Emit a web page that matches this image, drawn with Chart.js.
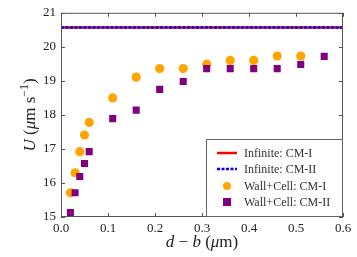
<!DOCTYPE html>
<html>
<head>
<meta charset="utf-8">
<script src="https://cdn.jsdelivr.net/npm/chart.js@4.4.0/dist/chart.umd.min.js"></script>
<style>
  html, body { margin: 0; padding: 0; background: #fff; }
  #wrap { width: 357px; height: 257px; }
</style>
</head>
<body>
<div id="wrap"><canvas id="uChart" width="357" height="257"></canvas></div>
<script>
// data
var infiniteU = 20.57;
var cm1X = [0.02, 0.03, 0.04, 0.05, 0.06, 0.11, 0.16, 0.21, 0.26, 0.31, 0.36, 0.41, 0.46, 0.51];
var cm1U = [15.71, 16.30, 16.92, 17.41, 17.78, 18.50, 19.11, 19.36, 19.36, 19.49, 19.60, 19.60, 19.73, 19.73];
var cm2X = [0.02, 0.03, 0.04, 0.05, 0.06, 0.11, 0.16, 0.21, 0.26, 0.31, 0.36, 0.41, 0.46, 0.51, 0.56];
var cm2U = [15.13, 15.71, 16.19, 16.57, 16.92, 17.89, 18.14, 18.75, 18.98, 19.36, 19.36, 19.36, 19.36, 19.48, 19.72];
var xTicks = [0.0, 0.1, 0.2, 0.3, 0.4, 0.5, 0.6];
var yTicks = [15, 16, 17, 18, 19, 20, 21];
var legendLabels = ['Infinite: CM-I', 'Infinite: CM-II', 'Wall+Cell: CM-I', 'Wall+Cell: CM-II'];

var SERIF = '"Liberation Serif", "DejaVu Serif", serif';

function toPoints(xs, ys) {
    return xs.map(function (x, i) { return { x: x, y: ys[i] }; });
}

// write a run of [font, text, dy] pieces centred on (0, 0) of the current transform
function drawRun(ctx, parts, cxMid, cy) {
    var total = 0;
    parts.forEach(function (p) { ctx.font = p[0]; total += ctx.measureText(p[1]).width; });
    var cx = cxMid - total / 2;
    ctx.textAlign = 'left';
    parts.forEach(function (p) {
        ctx.font = p[0];
        ctx.fillText(p[1], cx, cy + (p[2] || 0));
        cx += ctx.measureText(p[1]).width;
    });
}

// frame, inward ticks on all sides, axis titles, legend box
var decorPlugin = {
    id: 'decor',
    afterDraw: function (chart) {
        var ctx = chart.ctx;
        var a = chart.chartArea;
        var xs = chart.scales.x, ys = chart.scales.y;
        ctx.save();
        ctx.strokeStyle = '#555';
        ctx.lineWidth = 1;
        ctx.strokeRect(a.left + 0.5, a.top + 0.5, a.right - a.left - 1, a.bottom - a.top - 1);

        ctx.beginPath();
        xTicks.forEach(function (t) {
            var px = Math.round(xs.getPixelForValue(t)) + 0.5;
            ctx.moveTo(px, a.bottom); ctx.lineTo(px, a.bottom - 4);
            ctx.moveTo(px, a.top); ctx.lineTo(px, a.top + 4);
        });
        yTicks.forEach(function (t) {
            var py = Math.round(ys.getPixelForValue(t)) + 0.5;
            ctx.moveTo(a.left, py); ctx.lineTo(a.left + 4, py);
            ctx.moveTo(a.right, py); ctx.lineTo(a.right - 4, py);
        });
        ctx.stroke();

        // x title: d − b (μm)
        ctx.fillStyle = '#222';
        ctx.textBaseline = 'middle';
        var f = '17px ' + SERIF, fi = 'italic 17px ' + SERIF;
        drawRun(ctx, [
            [fi, 'd'], [f, ' \u2212 '], [fi, 'b'], [f, ' ('], [fi, '\u03bc'], [f, 'm)']
        ], (a.left + a.right) / 2, 243);

        // y title: U (μm s^-1), rotated
        ctx.save();
        ctx.translate(31, (a.top + a.bottom) / 2);
        ctx.rotate(-Math.PI / 2);
        drawRun(ctx, [
            [fi, 'U'], [f, ' ('], [fi, '\u03bc'], [f, 'm s'],
            ['12px ' + SERIF, '\u22121', -6], [f, ')']
        ], 0, 0);
        ctx.restore();

        // legend box in lower right
        var bx = 206, by = 139, bw = a.right - bx, bh = a.bottom - by;
        ctx.fillStyle = '#fff';
        ctx.fillRect(bx, by, bw, bh);
        ctx.strokeStyle = '#666';
        ctx.strokeRect(bx + 0.5, by + 0.5, bw - 1, bh - 1);
        var rows = [153, 169, 186, 202];
        ctx.lineWidth = 2.5;
        ctx.strokeStyle = '#ff0000';
        ctx.beginPath(); ctx.moveTo(217, rows[0]); ctx.lineTo(237, rows[0]); ctx.stroke();
        ctx.strokeStyle = '#0000ff';
        ctx.setLineDash([3, 1.5]);
        ctx.beginPath(); ctx.moveTo(217, rows[1]); ctx.lineTo(237, rows[1]); ctx.stroke();
        ctx.setLineDash([]);
        ctx.fillStyle = '#ffa500';
        ctx.beginPath(); ctx.arc(227, rows[2], 4, 0, Math.PI * 2); ctx.fill();
        ctx.fillStyle = '#800080';
        ctx.fillRect(223, rows[3] - 4, 8, 8);
        ctx.fillStyle = '#333';
        ctx.font = '12px ' + SERIF;
        ctx.textAlign = 'left';
        legendLabels.forEach(function (l, i) { ctx.fillText(l, 244, rows[i] + 1); });
        ctx.restore();
    }
};

var ctx = document.getElementById('uChart').getContext('2d');
var uChart = new Chart(ctx, {
    type: 'scatter',
    data: {
        datasets: [
            {
                label: legendLabels[0],
                type: 'line',
                data: [{ x: 0, y: infiniteU }, { x: 0.6, y: infiniteU }],
                borderColor: '#ff0000',
                borderWidth: 2.5,
                pointRadius: 0,
                order: 4
            },
            {
                label: legendLabels[1],
                type: 'line',
                data: [{ x: 0, y: infiniteU }, { x: 0.6, y: infiniteU }],
                borderColor: '#0000ff',
                borderWidth: 2.5,
                borderDash: [3, 1.5],
                pointRadius: 0,
                order: 3
            },
            {
                label: legendLabels[2],
                data: toPoints(cm1X, cm1U),
                backgroundColor: '#ffa500',
                borderWidth: 0,
                pointRadius: 4.6,
                pointStyle: 'circle',
                order: 2
            },
            {
                label: legendLabels[3],
                data: toPoints(cm2X, cm2U),
                backgroundColor: '#800080',
                borderWidth: 0,
                pointRadius: 5,
                pointStyle: 'rect',
                order: 1
            }
        ]
    },
    options: {
        responsive: false,
        animation: false,
        layout: { padding: { top: 11, right: 14, left: 0, bottom: 0 } },
        plugins: {
            legend: { display: false },
            tooltip: { enabled: false }
        },
        scales: {
            x: {
                type: 'linear',
                min: 0, max: 0.6,
                afterFit: function (s) { s.height = 40; },
                afterBuildTicks: function (s) { s.ticks = xTicks.map(function (v) { return { value: v }; }); },
                ticks: {
                    callback: function (v) { return v.toFixed(1); },
                    font: { family: SERIF, size: 13 },
                    color: '#222',
                    padding: 4
                },
                grid: { display: false, drawTicks: false, tickLength: 0 },
                border: { display: false }
            },
            y: {
                min: 15, max: 21,
                afterFit: function (s) { s.width = 61; },
                afterBuildTicks: function (s) { s.ticks = yTicks.map(function (v) { return { value: v }; }); },
                ticks: {
                    font: { family: SERIF, size: 13 },
                    color: '#222',
                    padding: 5
                },
                grid: { display: false, drawTicks: false, tickLength: 0 },
                border: { display: false }
            }
        }
    },
    plugins: [decorPlugin]
});
</script>
</body>
</html>
